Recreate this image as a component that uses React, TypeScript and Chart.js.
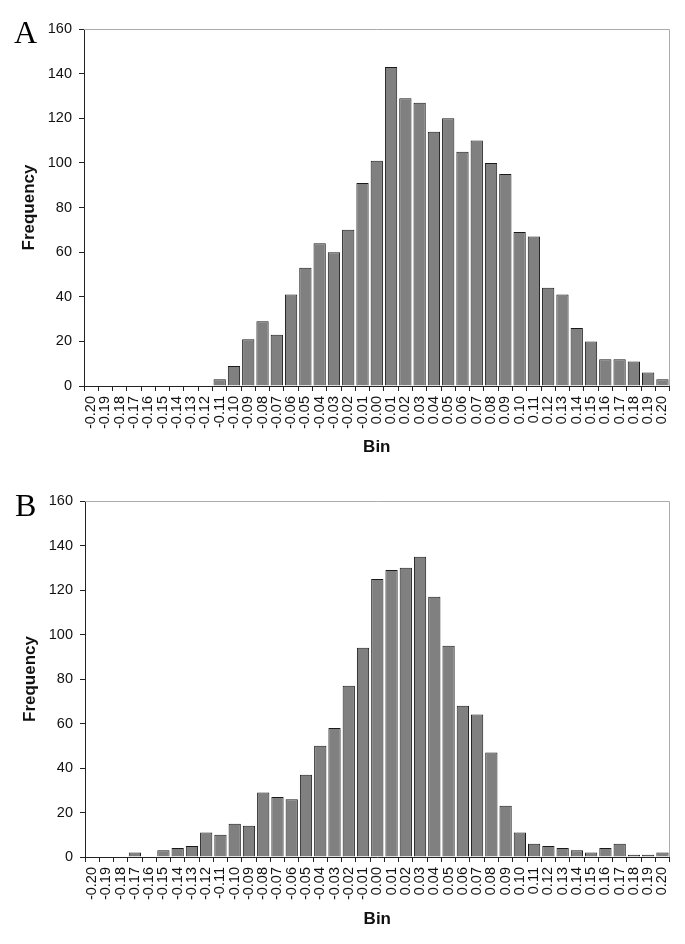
import React, { useEffect, useRef } from 'react';
import { Chart, registerables } from 'chart.js';

Chart.register(...registerables);

const bins = [
  '-0.20', '-0.19', '-0.18', '-0.17', '-0.16', '-0.15', '-0.14', '-0.13', '-0.12', '-0.11',
  '-0.10', '-0.09', '-0.08', '-0.07', '-0.06', '-0.05', '-0.04', '-0.03', '-0.02', '-0.01',
  '0.00', '0.01', '0.02', '0.03', '0.04', '0.05', '0.06', '0.07', '0.08', '0.09',
  '0.10', '0.11', '0.12', '0.13', '0.14', '0.15', '0.16', '0.17', '0.18', '0.19', '0.20',
];

const freqA = [
  0, 0, 0, 0, 0, 0, 0, 0, 0, 3,
  9, 21, 29, 23, 41, 53, 64, 60, 70, 91,
  101, 143, 129, 127, 114, 120, 105, 110, 100, 95,
  69, 67, 44, 41, 26, 20, 12, 12, 11, 6, 3,
];

const freqB = [
  0, 0, 0, 2, 0, 3, 4, 5, 11, 10,
  15, 14, 29, 27, 26, 37, 50, 58, 77, 94,
  125, 129, 130, 135, 117, 95, 68, 64, 47, 23,
  11, 6, 5, 4, 3, 2, 4, 6, 1, 1, 2,
];

const yMin = 0;
const yMax = 160;
const yStep = 20;

const FONT = "'Liberation Sans', Arial, sans-serif";
const AXIS = '#222222';

const framePlugin = {
  id: 'frame',
  beforeDatasetsDraw(chart: any) {
    const { ctx, chartArea } = chart;
    const { left, right, top, bottom } = chartArea;
    ctx.save();
    ctx.strokeStyle = '#ababab';
    ctx.lineWidth = 1;
    ctx.beginPath();
    ctx.moveTo(left, Math.round(top) + 0.5);
    ctx.lineTo(Math.round(right) - 0.5, Math.round(top) + 0.5);
    ctx.lineTo(Math.round(right) - 0.5, bottom);
    ctx.stroke();
    ctx.restore();
  },
};

type HistProps = {
  values: number[];
  top: number;
  height: number;
  padTop: number;
  padRight: number;
  yWidth: number;
  xHeight: number;
  yTitlePad: number;
  xTitlePad: number;
};

function Histogram(p: HistProps) {
  const ref = useRef<HTMLCanvasElement | null>(null);
  useEffect(() => {
    if (!ref.current) return;
    const chart = new Chart(ref.current, {
      type: 'bar',
      data: {
        labels: bins,
        datasets: [
          {
            data: p.values,
            backgroundColor: '#808080',
            borderColor: '#1a1a1a',
            borderWidth: 1,
            barPercentage: 0.86,
            categoryPercentage: 1,
          },
        ],
      },
      options: {
        animation: false,
        responsive: false,
        maintainAspectRatio: false,
        layout: { padding: { top: p.padTop, right: p.padRight, left: 0, bottom: 0 } },
        plugins: {
          legend: { display: false },
          tooltip: { enabled: false },
          title: { display: false },
        },
        scales: {
          x: {
            type: 'category',
            offset: true,
            afterFit: (s: any) => { s.height = p.xHeight; },
            grid: {
              display: true,
              offset: true,
              drawOnChartArea: false,
              drawTicks: true,
              tickLength: 5,
              color: AXIS,
              tickColor: AXIS,
            },
            border: { display: true, color: AXIS, width: 1 },
            ticks: {
              autoSkip: false,
              minRotation: 90,
              maxRotation: 90,
              padding: 5,
              color: '#111111',
              font: { family: FONT, size: 14.5 },
            },
            title: {
              display: true,
              text: 'Bin',
              color: '#111111',
              font: { family: FONT, size: 17, weight: 'bold' },
              padding: { top: 0, bottom: p.xTitlePad },
            },
          },
          y: {
            min: yMin,
            max: yMax,
            afterFit: (s: any) => { s.width = p.yWidth; },
            grid: {
              display: true,
              drawOnChartArea: false,
              drawTicks: true,
              tickLength: 5,
              color: AXIS,
              tickColor: AXIS,
            },
            border: { display: true, color: AXIS, width: 1 },
            ticks: {
              stepSize: yStep,
              padding: 7,
              color: '#111111',
              font: { family: FONT, size: 14.5 },
            },
            title: {
              display: true,
              text: 'Frequency',
              color: '#111111',
              font: { family: FONT, size: 17, weight: 'bold' },
              padding: { top: p.yTitlePad, bottom: 0 },
            },
          },
        },
      },
      plugins: [framePlugin],
    });
    return () => chart.destroy();
  }, []);
  return (
    <canvas
      ref={ref}
      width={685}
      height={p.height}
      style={{ position: 'absolute', left: 0, top: p.top, width: 685, height: p.height }}
    />
  );
}

const letterStyle: React.CSSProperties = {
  position: 'absolute',
  fontFamily: "'Liberation Serif', 'Times New Roman', serif",
  fontSize: 32,
  lineHeight: '32px',
  color: '#000',
};

export default function App() {
  return (
    <div style={{ position: 'absolute', left: 0, top: 0, width: 685, height: 944, background: '#fff', overflow: 'hidden' }}>
      <Histogram values={freqA} top={0} height={470} padTop={29} padRight={13} yWidth={84} xHeight={84} yTitlePad={19} xTitlePad={12} />
      <Histogram values={freqB} top={470} height={474} padTop={31} padRight={12} yWidth={85} xHeight={87} yTitlePad={20} xTitlePad={14} />
      <div style={{ ...letterStyle, left: 14, top: 16 }}>A</div>
      <div style={{ ...letterStyle, left: 15, top: 489 }}>B</div>
    </div>
  );
}
